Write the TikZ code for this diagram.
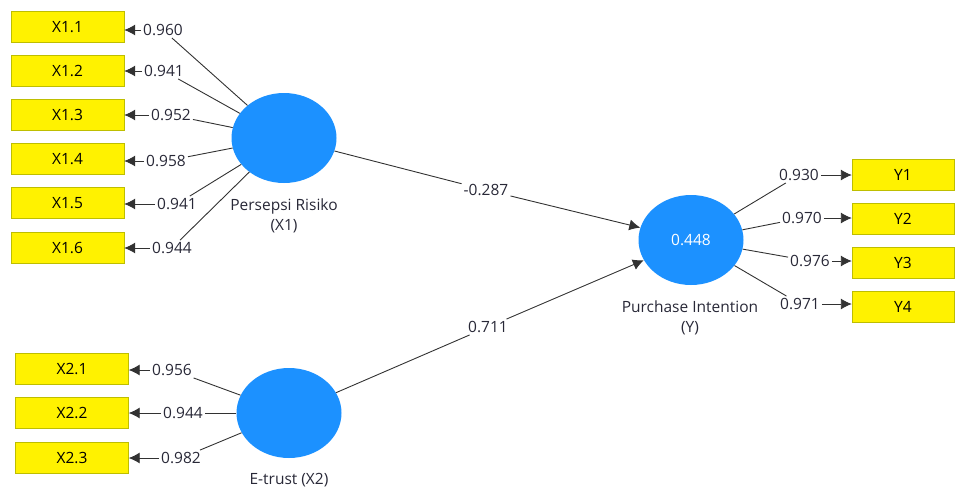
\documentclass[tikz,border=0pt]{standalone}
\usepackage{fontspec}
\setmainfont{Open Sans}
\usetikzlibrary{arrows.meta,shapes.geometric}
\definecolor{lvblue}{RGB}{28,145,255}
\definecolor{boxline}{RGB}{190,190,0}
\definecolor{linegray}{RGB}{50,50,50}
\definecolor{labeltext}{RGB}{40,40,55}
\begin{document}
\begin{tikzpicture}[x=1pt,y=-1pt]
		\tikzset{indicator/.style = {shape=rectangle,draw=boxline,fill=yellow,minimum width=113pt,minimum height=31pt,inner sep=0pt,font=\fontsize{15.5}{18}\selectfont}}
		\tikzset{latent/.style = {shape=ellipse,fill=lvblue,minimum width=105pt,minimum height=90pt,inner sep=0pt,text=white,font=\fontsize{15.5}{18}\selectfont}}
		\tikzset{coef/.style = {inner sep=2pt,text=labeltext,font=\fontsize{15.5}{18}\selectfont}}
		\tikzset{lvname/.style = {align=center,text=labeltext,font=\fontsize{15.5}{20}\selectfont}}
		\tikzset{edge/.style = {-{Latex[length=11pt,width=11pt]},draw=linegray,line width=0.9pt}}
		\useasboundingbox (0,0) rectangle (956,491);
		% latent variables
		\node[latent] (x1) at (284,138) {};
		\node[latent] (x2) at (289,413) {};
		\node[latent] (y) at (691,240) {0.448};
		\node[lvname] (x1name) at (284,216) {Persepsi Risiko\\(X1)};
		\node[lvname] (x2name) at (289,480) {E-trust (X2)};
		\node[lvname] (yname) at (690,318) {Purchase Intention\\(Y)};
		% indicators
		\node[indicator] (x11) at (67.5,27) {X1.1};
		\node[indicator] (x12) at (67.5,71) {X1.2};
		\node[indicator] (x13) at (67.5,115) {X1.3};
		\node[indicator] (x14) at (67.5,159) {X1.4};
		\node[indicator] (x15) at (67.5,203) {X1.5};
		\node[indicator] (x16) at (67.5,248) {X1.6};
		\node[indicator] (x21) at (72,369) {X2.1};
		\node[indicator] (x22) at (72,413) {X2.2};
		\node[indicator] (x23) at (72,458) {X2.3};
		\node[indicator,minimum width=102pt] (y1) at (903,175) {Y1};
		\node[indicator,minimum width=102pt] (y2) at (903,219) {Y2};
		\node[indicator,minimum width=102pt] (y3) at (903,263) {Y3};
		\node[indicator,minimum width=102pt] (y4) at (903,307) {Y4};
		% loadings
		\node[coef] (l11) at (163,30) {0.960};
		\node[coef] (l12) at (164,71) {0.941};
		\node[coef] (l13) at (171,115) {0.952};
		\node[coef] (l14) at (166,161) {0.958};
		\node[coef] (l15) at (177,204) {0.941};
		\node[coef] (l16) at (172,248) {0.944};
		\node[coef] (l21) at (172,370) {0.956};
		\node[coef] (l22) at (183,413) {0.944};
		\node[coef] (l23) at (181,458) {0.982};
		\node[coef] (ly1) at (799,175) {0.930};
		\node[coef] (ly2) at (802,218) {0.970};
		\node[coef] (ly3) at (810,261) {0.976};
		\node[coef] (ly4) at (800,304) {0.971};
		% path coefficients
		\node[coef] (p1) at (486,190) {-0.287};
		\node[coef] (p2) at (488,327) {0.711};
		\foreach \l/\b in {l11/x11,l12/x12,l13/x13,l14/x14,l15/x15,l16/x16}{
			\path[draw=linegray,line width=0.9pt] (x1) -- (\l);
			\path[edge] (\l) -- (\l -| \b.east);
		}
		\foreach \l/\b in {l21/x21,l22/x22,l23/x23}{
			\path[draw=linegray,line width=0.9pt] (x2) -- (\l);
			\path[edge] (\l) -- (\l -| \b.east);
		}
		\foreach \l/\b in {ly1/y1,ly2/y2,ly3/y3,ly4/y4}{
			\path[draw=linegray,line width=0.9pt] (y) -- (\l);
			\path[edge] (\l) -- (\l -| \b.west);
		}
		\path[draw=linegray,line width=0.9pt] (x1) -- (p1);
		\path[edge] (p1) -- (y);
		\path[draw=linegray,line width=0.9pt] (x2) -- (p2);
		\path[edge] (p2) -- (y);
\end{tikzpicture}
\end{document}
